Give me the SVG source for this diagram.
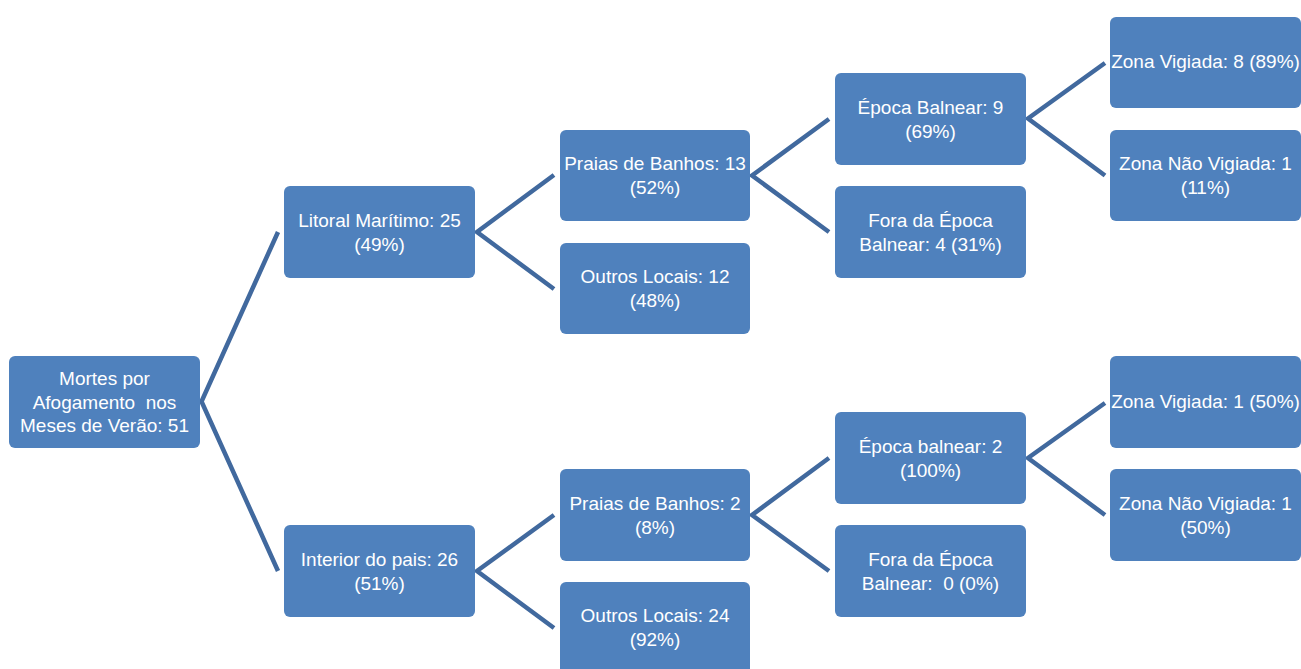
<svg xmlns="http://www.w3.org/2000/svg" width="1301" height="669" viewBox="0 0 1301 669">
<style>
.box{fill:#4F81BD;}
.t{font-family:"Liberation Sans",Arial,sans-serif;font-size:19px;fill:#FFFFFF;text-anchor:middle;}
.c{fill:none;stroke:#41699E;stroke-width:4.5;stroke-linejoin:miter;}
</style>
<rect width="1301" height="669" fill="#FFFFFF"/>
<g id="connectors">
<path class="c" d="M278,232 L201.5,401.5 L278,571"/>
<path class="c" d="M554,175 L477,232 L554,289"/>
<path class="c" d="M554,515 L477,571 L554,628"/>
<path class="c" d="M829,119 L752,175.5 L829,232"/>
<path class="c" d="M829,458 L752,515 L829,571"/>
<path class="c" d="M1105,63 L1028,118.5 L1105,175.5"/>
<path class="c" d="M1105,403 L1028,458 L1105,515"/>
</g>
<g id="n-root"><rect class="box" x="9" y="356" width="191" height="92" rx="6"/>
<text class="t" x="104.5" y="385">Mortes por</text>
<text class="t" x="104.5" y="408.5" xml:space="preserve">Afogamento  nos</text>
<text class="t" x="104.5" y="432">Meses de Verão: 51</text></g>
<g id="n-litoral"><rect class="box" x="284" y="186" width="191" height="92" rx="6"/>
<text class="t" x="379.5" y="227">Litoral Marítimo: 25</text>
<text class="t" x="379.5" y="251">(49%)</text></g>
<g id="n-interior"><rect class="box" x="284" y="525" width="191" height="92" rx="6"/>
<text class="t" x="379.5" y="566">Interior do pais: 26</text>
<text class="t" x="379.5" y="590">(51%)</text></g>
<g id="n-praias1"><rect class="box" x="560" y="130" width="190" height="91" rx="6"/>
<text class="t" x="655" y="170">Praias de Banhos: 13</text>
<text class="t" x="655" y="194">(52%)</text></g>
<g id="n-outros1"><rect class="box" x="560" y="243" width="190" height="91" rx="6"/>
<text class="t" x="655" y="283">Outros Locais: 12</text>
<text class="t" x="655" y="307">(48%)</text></g>
<g id="n-praias2"><rect class="box" x="560" y="469" width="190" height="92" rx="6"/>
<text class="t" x="655" y="510">Praias de Banhos: 2</text>
<text class="t" x="655" y="534">(8%)</text></g>
<g id="n-outros2"><rect class="box" x="560" y="582" width="190" height="95" rx="6"/>
<text class="t" x="655" y="622">Outros Locais: 24</text>
<text class="t" x="655" y="646">(92%)</text></g>
<g id="n-epoca1"><rect class="box" x="835" y="73" width="191" height="92" rx="6"/>
<text class="t" x="930.5" y="114">Época Balnear: 9</text>
<text class="t" x="930.5" y="138">(69%)</text></g>
<g id="n-fora1"><rect class="box" x="835" y="186" width="191" height="92" rx="6"/>
<text class="t" x="930.5" y="227">Fora da Época</text>
<text class="t" x="930.5" y="251">Balnear: 4 (31%)</text></g>
<g id="n-epoca2"><rect class="box" x="835" y="412" width="191" height="92" rx="6"/>
<text class="t" x="930.5" y="453">Época balnear: 2</text>
<text class="t" x="930.5" y="477">(100%)</text></g>
<g id="n-fora2"><rect class="box" x="835" y="525" width="191" height="92" rx="6"/>
<text class="t" x="930.5" y="566">Fora da Época</text>
<text class="t" x="930.5" y="590" xml:space="preserve">Balnear:  0 (0%)</text></g>
<g id="n-zv1"><rect class="box" x="1110" y="17" width="191" height="91" rx="6"/>
<text class="t" x="1205.5" y="68">Zona Vigiada: 8 (89%)</text></g>
<g id="n-znv1"><rect class="box" x="1110" y="130" width="191" height="91" rx="6"/>
<text class="t" x="1205.5" y="170">Zona Não Vigiada: 1</text>
<text class="t" x="1205.5" y="194">(11%)</text></g>
<g id="n-zv2"><rect class="box" x="1110" y="356" width="191" height="92" rx="6"/>
<text class="t" x="1205.5" y="408">Zona Vigiada: 1 (50%)</text></g>
<g id="n-znv2"><rect class="box" x="1110" y="469" width="191" height="92" rx="6"/>
<text class="t" x="1205.5" y="510">Zona Não Vigiada: 1</text>
<text class="t" x="1205.5" y="534">(50%)</text></g>
</svg>
